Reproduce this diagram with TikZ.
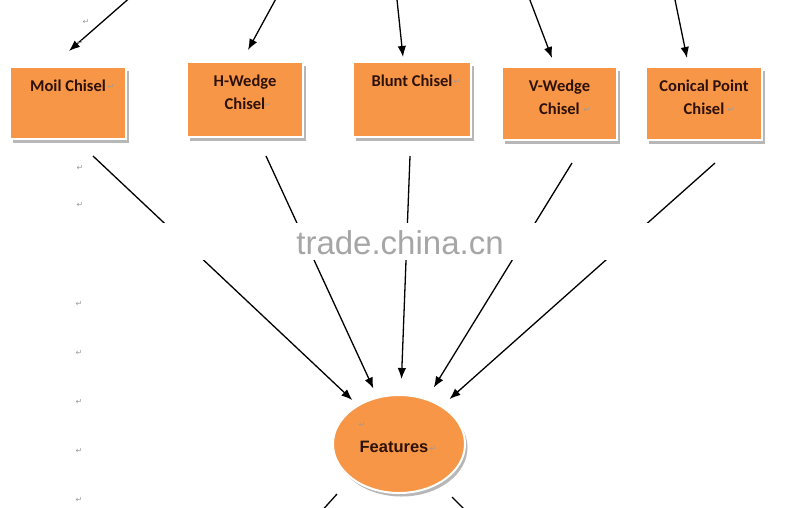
\documentclass[tikz,border=0pt]{standalone}
\usepackage{fontspec}
\setmainfont{Carlito}
\newfontfamily\arialf{Liberation Sans}
\newfontfamily\symf{DejaVu Sans}
\usetikzlibrary{shapes.geometric,arrows.meta,shadows,calc}
\definecolor{boxorange}{HTML}{F79646}
\definecolor{labeltxt}{HTML}{2E120A}
\definecolor{pmark}{HTML}{9C9C9C}
\definecolor{wmark}{HTML}{A6A6A6}
\begin{document}
\begin{tikzpicture}[x=1pt,y=-1pt,
  chbox/.style={rectangle, fill=boxorange, draw=white, line width=1.6pt, inner sep=0pt, outer sep=0pt,
    drop shadow={shadow xshift=2.5pt, shadow yshift=-3.5pt, fill=black!40, opacity=0.7}},
  featshape/.style={ellipse, fill=boxorange, draw=white, line width=2pt, inner sep=0pt, outer sep=0pt,
    minimum width=132, minimum height=98,
    drop shadow={shadow xshift=2.5pt, shadow yshift=-3.5pt, fill=black!40, opacity=0.7}},
  lbl/.style={font=\bfseries\fontsize{16.5}{23}\selectfont, text=labeltxt, align=center, inner sep=0pt},
  conn/.style={draw=black, line width=1.3pt, -{Latex[length=11pt,width=8.5pt]}},
  stub/.style={draw=black, line width=1.3pt},
  pm/.style={font=\symf\fontsize{8}{8}\selectfont, text=pmark, inner sep=0pt}]
\useasboundingbox (0,0) rectangle (800,507);
\clip (0,0) rectangle (800,507);
\fill[white] (0,0) rectangle (800,507);

% chisel boxes
\node[chbox, minimum width=116, minimum height=72] (moil) at (68,103) {};
\node[chbox, minimum width=116, minimum height=75] (hw) at (245,99.5) {};
\node[chbox, minimum width=118, minimum height=75] (bl) at (412,99.5) {};
\node[chbox, minimum width=115, minimum height=73] (vw) at (559.5,103.5) {};
\node[chbox, minimum width=116, minimum height=73] (cp) at (704,103.5) {};

\node[lbl] (moilt) at (68,86) {Moil Chisel};
\node[lbl] (hwt) at (245,92.5) {H-Wedge\\Chisel};
\node[lbl] (blt) at (412,81) {Blunt Chisel};
\node[lbl] (vwt) at (559.5,97) {V-Wedge\\Chisel};
\node[lbl] (cpt) at (704,97) {Conical Point\\Chisel};

% features ellipse
\node[featshape] (feat) at (399,444) {};
\node[font=\arialf\bfseries\fontsize{16.5}{20}\selectfont, text=labeltxt, inner sep=0pt] (featt) at (394,447) {Features};

% incoming arrows from above
\coordinate (mtop) at (133,-5);  \coordinate (mtip) at (69,51);
\coordinate (htop) at (278,-5);  \coordinate (htip) at (248,50);
\coordinate (btop) at (396.5,-5);\coordinate (btip) at (403,57);
\coordinate (vtop) at (528,-5);  \coordinate (vtip) at (552,58);
\coordinate (ctop) at (674,-5);  \coordinate (ctip) at (687,58);
\draw[conn] (mtop) -- (mtip);
\draw[conn] (htop) -- (htip);
\draw[conn] (btop) -- (btip);
\draw[conn] (vtop) -- (vtip);
\draw[conn] (ctop) -- (ctip);

% connectors to features
\coordinate (mout) at (93,156);
\coordinate (hout) at (266,156);
\coordinate (bout) at (410,156);
\coordinate (vout) at (572,163);
\coordinate (cout) at (715,163);
\draw[conn, shorten >=8pt] (mout) -- (feat);
\draw[conn, shorten >=10pt] (hout) -- (feat);
\draw[conn, shorten >=16pt] (bout) -- (feat);
\draw[conn, shorten >=14pt] (vout) -- (feat);
\draw[conn, shorten >=11pt] (cout) -- (feat);

% stubs leaving the ellipse downward
\coordinate (fl) at (337,494); \coordinate (flo) at (319,514);
\coordinate (fr) at (452,497); \coordinate (fro) at (466,511);
\draw[stub] (fl) -- (flo);
\draw[stub] (fr) -- (fro);

% watermark band
\fill[white] (60,223) rectangle (770,260);
\node[font=\arialf\fontsize{33}{33}\selectfont, text=wmark, inner sep=0pt] (wm) at (400,243) {trade.china.cn};

% paragraph marks
\node[pm] (p1) at (86,22) {↵};
\node[pm] (p2) at (80,43) {↵};
\node[pm] (p3) at (80,168) {↵};
\node[pm] (p4) at (80,205) {↵};
\node[pm] (p5) at (79,304) {↵};
\node[pm] (p6) at (79,353) {↵};
\node[pm] (p7) at (79,402) {↵};
\node[pm] (p8) at (79,451) {↵};
\node[pm] (p9) at (79,500) {↵};
\node[pm] (p10) at (111,87) {↵};
\node[pm] (p11) at (268,105) {↵};
\node[pm] (p12) at (457,82) {↵};
\node[pm] (p13) at (587,110) {↵};
\node[pm] (p14) at (731,110) {↵};
\node[pm] (p15) at (433,449) {↵};
\node[pm] (p16) at (362,425) {↵};
\end{tikzpicture}
\end{document}
